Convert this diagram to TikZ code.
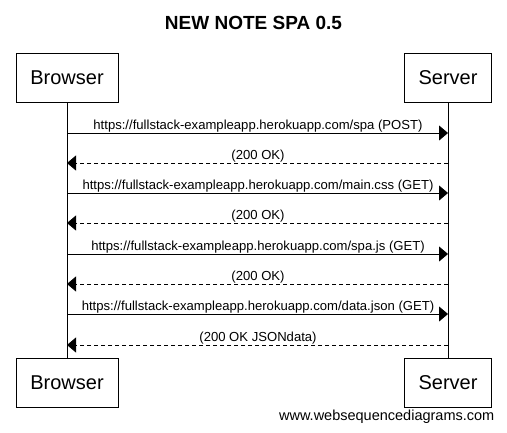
\documentclass[tikz,border=0pt]{standalone}
\usepackage{fontspec}
\setmainfont{Liberation Sans}
\usetikzlibrary{arrows.meta}
\begin{document}
\begin{tikzpicture}[x=1pt,y=-1pt,
  actor/.style={draw,line width=0.8pt,minimum width=#1,minimum height=49pt,inner sep=0pt,font=\fontsize{20}{20}\selectfont},
  msg/.style={line width=0.8pt,-{Triangle[length=9pt,width=15pt]}},
  reply/.style={msg,dash pattern=on 4pt off 3pt},
  lbl/.style={font=\fontsize{13.1}{14}\selectfont,anchor=base,inner sep=0pt},
  life/.style={line width=0.8pt}]
\useasboundingbox (0,0) rectangle (507,432);
\node[font=\bfseries\fontsize{19}{20}\selectfont,anchor=base] (title) at (253.5,29) {NEW NOTE SPA 0.5};
\node[actor=102pt] (bt) at (67,77.5) {Browser};
\node[actor=87pt] (st) at (448,77.5) {Server};
\node[actor=102pt] (bb) at (67,382.5) {Browser};
\node[actor=87pt] (sb) at (448,382.5) {Server};
\draw[life] (bt) -- (bb);
\draw[life] (st) -- (sb);
\foreach \i/\y in {1/133,2/163,3/193,4/223,5/254,6/284,7/314,8/345}{
  \coordinate (b\i) at (67,\y);
  \coordinate (s\i) at (448,\y);
}
\draw[msg] (b1) -- (s1);
\node[lbl] (l1) at (258,129) {https://fullstack-exampleapp.herokuapp.com/spa (POST)};
\draw[reply] (s2) -- (b2);
\node[lbl] (l2) at (258,159) {(200 OK)};
\draw[msg] (b3) -- (s3);
\node[lbl] (l3) at (258,189) {https://fullstack-exampleapp.herokuapp.com/main.css (GET)};
\draw[reply] (s4) -- (b4);
\node[lbl] (l4) at (258,219) {(200 OK)};
\draw[msg] (b5) -- (s5);
\node[lbl] (l5) at (258,250) {https://fullstack-exampleapp.herokuapp.com/spa.js (GET)};
\draw[reply] (s6) -- (b6);
\node[lbl] (l6) at (258,280) {(200 OK)};
\draw[msg] (b7) -- (s7);
\node[lbl] (l7) at (258,310) {https://fullstack-exampleapp.herokuapp.com/data.json (GET)};
\draw[reply] (s8) -- (b8);
\node[lbl] (l8) at (258,341) {(200 OK JSONdata)};
\node[font=\fontsize{14.5}{15}\selectfont,anchor=base east,inner sep=0pt] (wm) at (494.5,420) {www.websequencediagrams.com};
\end{tikzpicture}
\end{document}
